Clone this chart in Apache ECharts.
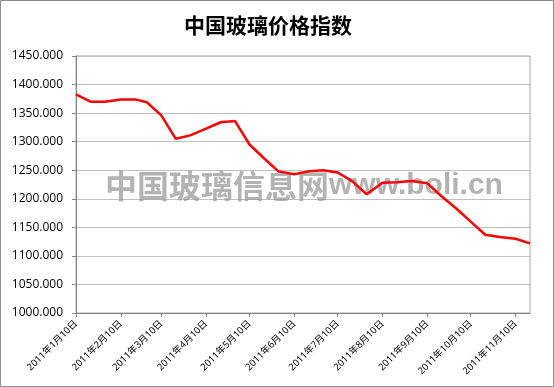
<!DOCTYPE html>
<html>
<head>
<meta charset="utf-8">
<script src="https://cdn.jsdelivr.net/npm/echarts@6/dist/echarts.min.js"></script>
<style>
html,body{margin:0;padding:0;background:#fff;}
#c{width:554px;height:387px;}
</style>
</head>
<body>
<div id="c"></div>
<script>
// ---- data ----
const titleText = '中国玻璃价格指数';
const watermarkCn = '中国玻璃信息网';
const watermarkEn = 'www.boli.cn';
const dates = [
  '2011-01-10','2011-01-20','2011-01-30',
  '2011-02-10','2011-02-20','2011-02-28',
  '2011-03-10','2011-03-20','2011-03-30',
  '2011-04-10','2011-04-20','2011-04-30',
  '2011-05-10','2011-05-20','2011-05-30',
  '2011-06-10','2011-06-20','2011-06-30',
  '2011-07-10','2011-07-20','2011-07-30',
  '2011-08-10','2011-08-20','2011-08-30',
  '2011-09-10','2011-09-20','2011-09-30',
  '2011-10-10','2011-10-20','2011-10-30',
  '2011-11-10','2011-11-20'
];
const values = [
  1383, 1370, 1370,
  1374, 1374, 1369,
  1346, 1305, 1311,
  1323, 1334, 1336,
  1295, 1271, 1248,
  1243, 1248, 1250,
  1246, 1231, 1208,
  1228, 1229, 1231,
  1227, 1204, 1183,
  1160, 1137, 1133,
  1130, 1122
];
const tickDates = [
  '2011-01-10','2011-02-10','2011-03-10','2011-04-10','2011-05-10','2011-06-10',
  '2011-07-10','2011-08-10','2011-09-10','2011-10-10','2011-11-10'
];
const tickLabels = [
  '2011年1月10日','2011年2月10日','2011年3月10日','2011年4月10日','2011年5月10日','2011年6月10日',
  '2011年7月10日','2011年8月10日','2011年9月10日','2011年10月10日','2011年11月10日'
];
const yMin = 1000, yMax = 1450, yStep = 50;

// ---- helpers: dates -> day numbers (value axis) ----
function dayNum(s){ const p = s.split('-'); return Math.round(Date.UTC(+p[0], +p[1]-1, +p[2]) / 86400000); }
const xs = dates.map(dayNum);
const tickXs = tickDates.map(dayNum);
const labelMap = {};
tickXs.forEach((t,i)=>{ labelMap[t] = tickLabels[i]; });

const chart = echarts.init(document.getElementById('c'), null, {renderer:'canvas'});
chart.setOption({
  animation:false,
  backgroundColor:'#fff',
  title:{
    text:titleText,
    left:263, top:10, textAlign:'center',
    textStyle:{fontFamily:'Noto Sans CJK SC', fontSize:21, fontWeight:'bold', color:'#000'}
  },
  graphic:[
    {type:'rect', shape:{x:0.5,y:0.5,width:553,height:386}, style:{fill:'none', stroke:'#8c8c8c', lineWidth:1}, z:100},
    {type:'text', left:105, top:170, z:50, silent:true,
     style:{
       text:'{cn|' + watermarkCn + '}{en|' + watermarkEn + '}',
       rich:{
         cn:{fontFamily:'Noto Sans CJK SC', fontSize:32, fontWeight:'bold', fill:'rgba(150,150,150,0.72)'},
         en:{fontFamily:'Liberation Sans', fontSize:30, fontWeight:'bold', fill:'rgba(150,150,150,0.72)'}
       }
     }}
  ],
  grid:{left:76, right:24, top:56, bottom:74, show:true, borderColor:'#a6a6a6', borderWidth:1},
  xAxis:{
    type:'value',
    min:xs[0], max:xs[xs.length-1],
    axisLine:{lineStyle:{color:'#868686', width:1}},
    axisTick:{show:true, customValues:tickXs, length:4, lineStyle:{color:'#868686'}},
    splitLine:{show:false},
    axisLabel:{
      customValues:tickXs, rotate:45, margin:9,
      fontFamily:'Noto Sans, Noto Sans CJK SC', fontSize:9.5, color:'#000',
      formatter:function(v){ return labelMap[v] || ''; }
    }
  },
  yAxis:{
    type:'value', min:yMin, max:yMax, interval:yStep,
    axisLine:{show:true, lineStyle:{color:'#868686', width:1}},
    axisTick:{show:true, length:4, lineStyle:{color:'#868686'}},
    splitLine:{show:true, lineStyle:{color:'#c0c0c0', width:1}},
    axisLabel:{
      margin:13, fontFamily:'Open Sans', fontSize:12, color:'#000',
      formatter:function(v){ return v.toFixed(3); }
    }
  },
  series:[{
    type:'line',
    data:xs.map((x,i)=>[x, values[i]]),
    showSymbol:false, symbol:'none',
    lineStyle:{color:'#ff0000', width:2.5},
    z:60
  }]
});
</script>
</body>
</html>
